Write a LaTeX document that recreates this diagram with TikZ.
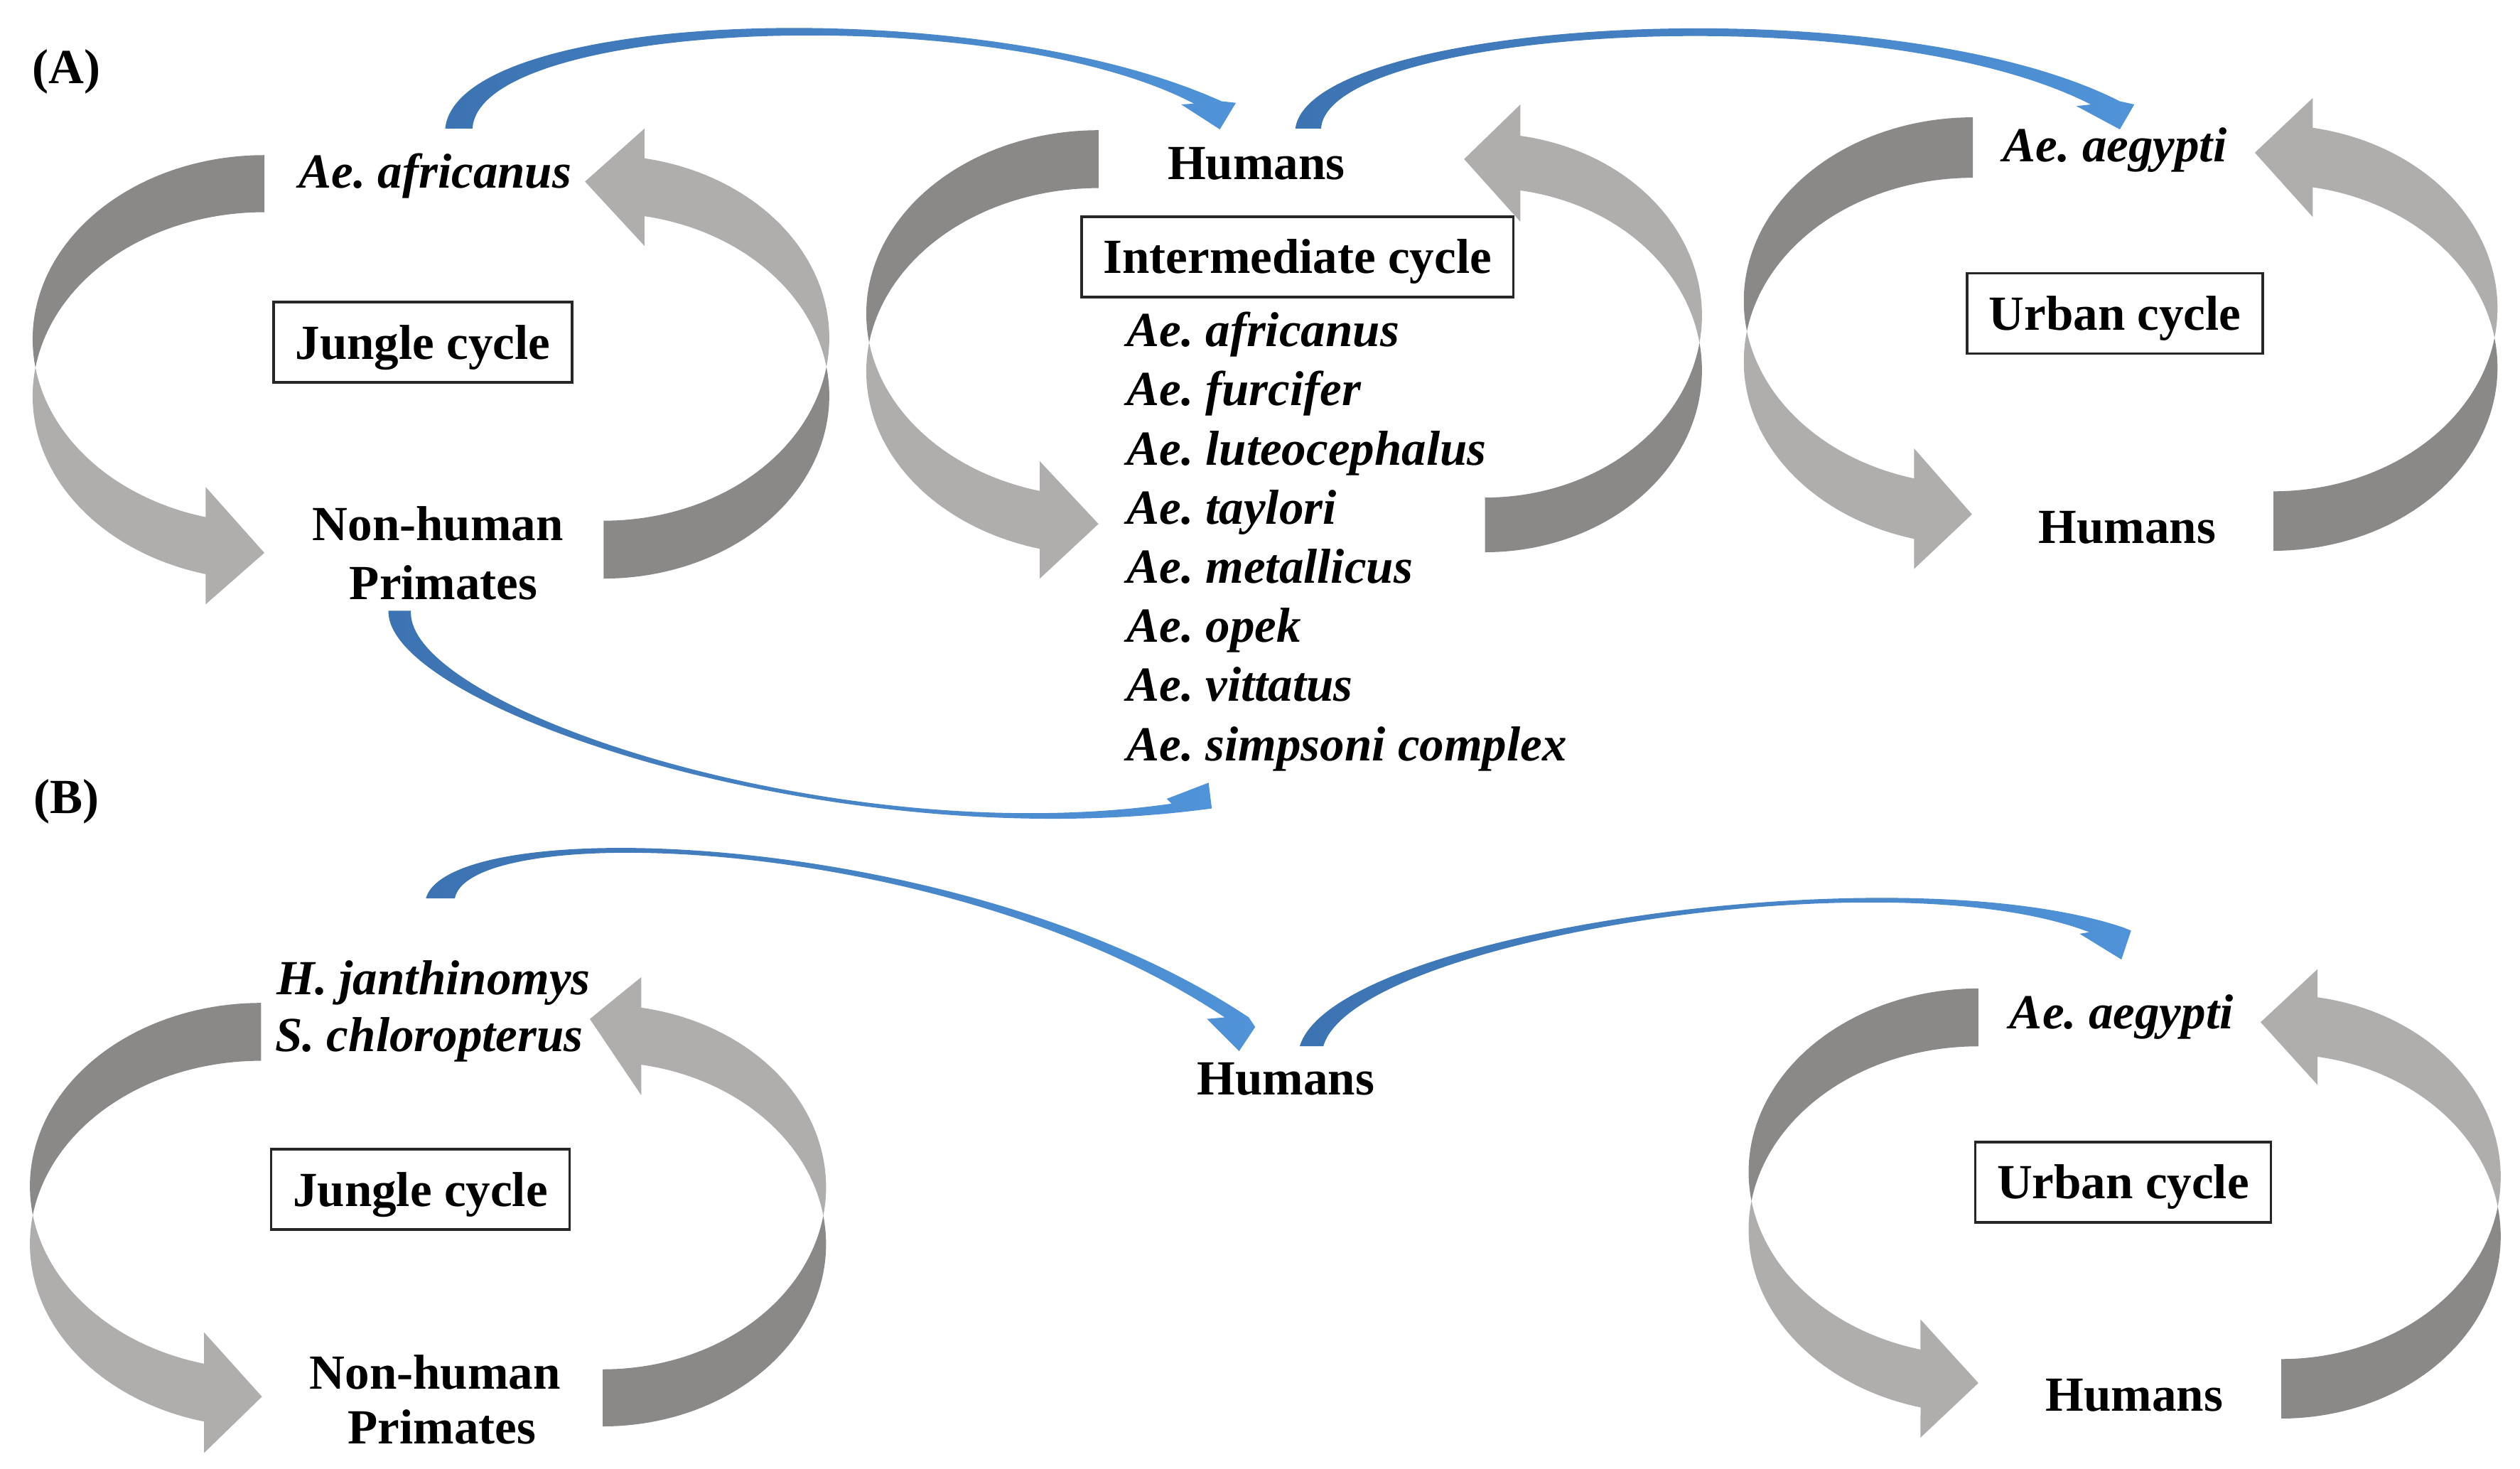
\documentclass[tikz,border=0pt]{standalone}
\usepackage{fontspec}
\setmainfont{Liberation Serif}
\frenchspacing
\definecolor{gdark}{RGB}{139,136,136}
\definecolor{glight}{RGB}{176,173,173}
\definecolor{bluedark}{RGB}{60,115,178}
\definecolor{bluelight}{RGB}{80,147,216}
\newcommand\fs{\fontsize{19.64pt}{24pt}\selectfont}
% gray curved arrow: #1 tail x, #2 tail end y, #3 thickness, #4 extreme x,
% #5 head base x, #6 head centre y, #7 barb extension, #8 tip x, #9 tip y
\newcommand\grayarc[9]{%
 \pgfmathsetmacro\gA{(\gS)*(#1-#4)}%
 \pgfmathsetmacro\gK{sqrt(1-((#1-#5)/\gA)^2)}%
 \pgfmathsetmacro\gYone{#6-(\gS)*#3/2}%
 \pgfmathsetmacro\gYtwo{#6+(\gS)*#3/2}%
 \pgfmathsetmacro\gB{(\gS)*(\gYone-#2)/(1+\gK)}%
 \pgfmathsetmacro\gCone{#2+(\gS)*\gB}%
 \pgfmathsetmacro\gCtwo{\gCone+(\gS)*#3}%
 \pgfmathsetmacro\gTone{acos(-#3/(2*\gB))}%
 \pgfmathsetmacro\gTtwo{acos(#3/(2*\gB))}%
 \pgfmathsetmacro\gTe{180-asin(abs(#1-#5)/\gA)}%
 \fill[gdark] plot[domain=0:\gTone,samples=50] ({#1-(\gS)*\gA*sin(\x)},{\gCone-(\gS)*\gB*cos(\x)})
   -- plot[domain=\gTtwo:0,samples=50] ({#1-(\gS)*\gA*sin(\x)},{\gCtwo-(\gS)*\gB*cos(\x)}) -- cycle;
 \fill[glight] plot[domain=\gTtwo:\gTe,samples=50] ({#1-(\gS)*\gA*sin(\x)},{\gCtwo-(\gS)*\gB*cos(\x)})
   -- (#5,{\gYtwo+(\gS)*#7}) -- (#8,#9) -- (#5,{\gYone-(\gS)*#7}) -- (#5,\gYone)
   -- plot[domain=\gTe:\gTone,samples=50] ({#1-(\gS)*\gA*sin(\x)},{\gCone-(\gS)*\gB*cos(\x)}) -- cycle;
}
\newcommand\arcL{\def\gS{1}\grayarc}
\newcommand\arcR{\def\gS{-1}\grayarc}
\begin{document}
\begin{tikzpicture}[x=0.02261cm, y=-0.02261cm,
  lbl/.style={font=\fs\bfseries, inner sep=0pt, anchor=base},
  sp/.style={font=\fs\bfseries\itshape, inner sep=0pt, anchor=base},
  spl/.style={sp, anchor=base west},
  cyclebox/.style={draw=black!85, line width=1pt, font=\fs\bfseries, inner xsep=0.3075cm,
    inner ysep=0pt, text height=13.47pt, text depth=0pt, minimum height=1.13cm, fill=white},
  bluearr/.style={left color=bluedark, right color=bluelight}]
\useasboundingbox (0,0) rectangle (1568,914);

% ---------- gray cycle arrows ----------
\arcL{164.5}{96.5}{35.5}{20.3}{128}{339.5}{18.75}{164.5}{344}
\arcR{375.6}{360}{36}{516}{401}{116.5}{18.5}{364}{113}
\arcL{683.6}{81}{36}{539}{647}{323.5}{18.5}{683.5}{326}
\arcR{924}{343.6}{34}{1059}{946}{101.5}{19.5}{911}{99}
\arcL{1227.6}{73}{37.6}{1085}{1191}{316.5}{18.7}{1227}{320}
\arcR{1414.6}{342.7}{37}{1554}{1439}{98}{18.5}{1403}{95}
\arcL{162.4}{624}{36}{18.6}{127}{866.5}{19.5}{163}{869}
\arcR{375}{887.5}{35.5}{514}{399}{644.7}{19}{367}{634}
\arcL{1231}{615}{36}{1088}{1195}{857.7}{18.75}{1231}{860.5}
\arcR{1419.5}{882.6}{37}{1556}{1442}{639}{17.5}{1406.6}{636}

% ---------- blue transmission arrows ----------
\shade[bluearr] (277,80) .. controls (285,5) and (610,-5) .. (760,63) -- (769,64) -- (759,80.5) -- (735,65) -- (743,64.5)
  .. controls (620,0) and (298,12) .. (294,80) -- cycle;
\shade[bluearr] (806,80) .. controls (815,12) and (1175,-10) .. (1319,63) -- (1328,65) -- (1319,80.5) -- (1292,66) -- (1301,65)
  .. controls (1165,-4) and (826,18) .. (822,80) -- cycle;
\shade[bluearr] (241.7,380) .. controls (240,440) and (520,535) .. (754,503) -- (752,487) -- (726,497) -- (729,500)
  .. controls (520,530) and (252,440) .. (255.7,380) -- cycle;
\shade[bluearr] (265,559) .. controls (280,505) and (600,515) .. (777,633) -- (781,639) -- (771,654) -- (751,634) -- (762,633)
  .. controls (590,518) and (292,510) .. (283,559) -- cycle;
\shade[bluearr] (808.7,651) .. controls (830,580) and (1180,530) .. (1321,577) -- (1326,579) -- (1320,597) -- (1294,581) -- (1300,580)
  .. controls (1175,532) and (842,585) .. (823.4,651) -- cycle;

% ---------- texts ----------
\node[lbl] (labA) at (41.5,52) {(A)};
\node[sp] (afrA) at (270.8,117) {Ae. africanus};
\node[cyclebox] (jungA) at (263,213) {Jungle cycle};
\node[lbl] (nhpA1) at (272.5,336.3) {Non-human};
\node[lbl] (nhpA2) at (276,373) {Primates};
\node[lbl] (humI) at (781.7,111.8) {Humans};
\node[cyclebox] (interm) at (807.3,159.75) {Intermediate cycle};
\node[spl] (l1) at (700.7,215.6) {Ae. africanus};
\node[spl] (l2) at (700.7,252.4) {Ae. furcifer};
\node[spl] (l3) at (700.7,289.2) {Ae. luteocephalus};
\node[spl] (l4) at (700.7,326.0) {Ae. taylori};
\node[spl] (l5) at (700.7,362.8) {Ae. metallicus};
\node[spl] (l6) at (700.7,399.6) {Ae. opek};
\node[spl] (l7) at (700.7,436.4) {Ae. vittatus};
\node[spl] (l8) at (700.7,473.2) {Ae. simpsoni complex};
\node[sp] (aegA) at (1316,100.7) {Ae. aegypti};
\node[cyclebox] (urbA) at (1316,195) {Urban cycle};
\node[lbl] (humU) at (1323.6,338) {Humans};

\node[lbl] (labB) at (41.5,506) {(B)};
\node[sp] (hj) at (269.8,618.7) {H. janthinomys};
\node[sp] (sc) at (267,654.3) {S. chloropterus};
\node[cyclebox] (jungB) at (261.5,740) {Jungle cycle};
\node[lbl] (nhpB1) at (270.7,864.3) {Non-human};
\node[lbl] (nhpB2) at (275,898.4) {Primates};
\node[lbl] (humB) at (800,681) {Humans};
\node[sp] (aegB) at (1320,640) {Ae. aegypti};
\node[cyclebox] (urbB) at (1321,735.5) {Urban cycle};
\node[lbl] (humUB) at (1328,878) {Humans};
\end{tikzpicture}
\end{document}
